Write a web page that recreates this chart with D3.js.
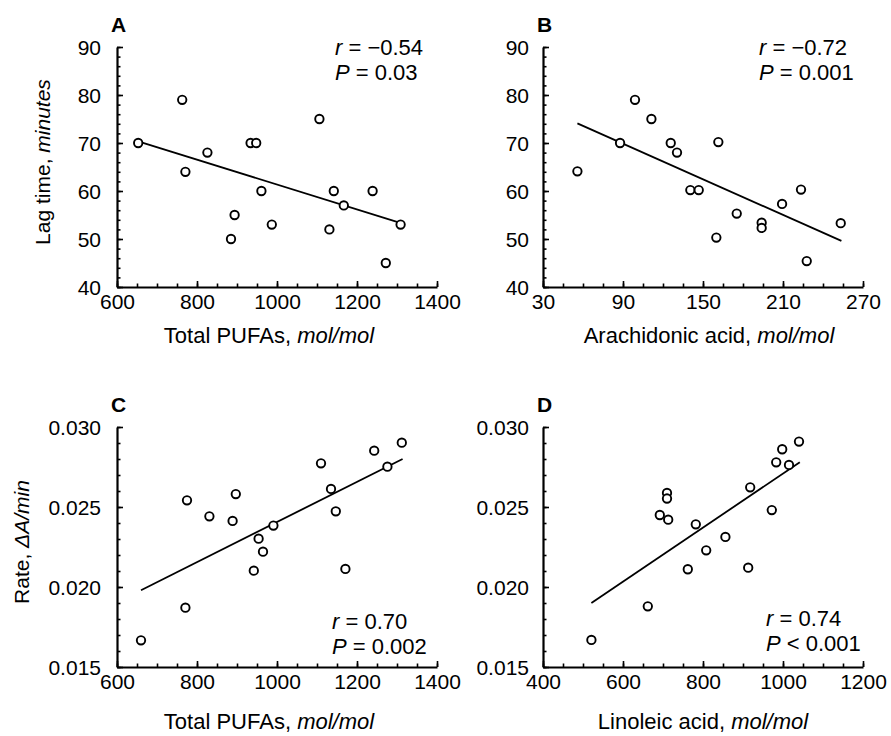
<!DOCTYPE html>
<html>
<head>
<meta charset="utf-8">
<script src="https://cdn.jsdelivr.net/npm/d3@7"></script>
<style>
  body { margin: 0; background: #fff; }
  text { font-family: "Liberation Sans", Arial, Helvetica, sans-serif; fill: #000; }
</style>
</head>
<body>
<svg id="chart" width="891" height="736"></svg>
<script>
// ---- data ----
// A: lag time vs total PUFAs
const pufaA = [653, 763, 771, 826, 885, 894, 934, 948, 961, 987, 1106, 1131, 1142, 1167, 1239, 1272, 1309]
const lagA  = [70, 79, 64, 68, 50, 55, 70, 70, 60, 53, 75, 52, 60, 57, 60, 45, 53]
// B: lag time vs arachidonic acid
const araB = [55.8, 87.8, 99, 111.3, 125.8, 130.5, 140.5, 146.8, 161.5, 160, 175.3, 194, 194, 209.3, 223.5, 227.8, 253.3]
const lagB = [64.1, 70, 79, 75, 70, 68, 60.2, 60.2, 70.2, 50.3, 55.3, 53.4, 52.3, 57.3, 60.3, 45.4, 53.3]
// C: rate vs total PUFAs
const pufaC = [660, 771, 775, 831, 889, 897, 942, 954, 965, 991, 1110, 1135, 1147, 1171, 1243, 1276, 1312]
const rateC = [0.01667, 0.01871, 0.02542, 0.02442, 0.02413, 0.02581, 0.02102, 0.02302, 0.02221, 0.02384, 0.02773, 0.02613, 0.02473, 0.02113, 0.02852, 0.02752, 0.02902]
// D: rate vs linoleic acid
const linD  = [521, 662, 692, 710, 710, 713, 762, 782, 808, 856, 913, 918, 972, 983, 998, 1015, 1040]
const rateD = [0.01669, 0.01879, 0.02450, 0.02588, 0.02553, 0.02421, 0.02111, 0.02392, 0.02229, 0.02313, 0.02121, 0.02623, 0.02481, 0.02779, 0.02861, 0.02763, 0.02909]

// regression lines (end points as drawn)
const fitA = { x: [655, 1310], y: [70.3, 53.3] }
const fitB = { x: [55.8, 253.8], y: [74.1, 49.6] }
const fitC = { x: [660, 1314], y: [0.0198, 0.0280] }
const fitD = { x: [521, 1042], y: [0.0190, 0.0278] }

const statR = ["\u22120.54", "\u22120.72", "0.70", "0.74"]
const statP = ["= 0.03", "= 0.001", "= 0.002", "< 0.001"]

const ticksPufa = [600, 800, 1000, 1200, 1400]
const ticksAra  = [30, 90, 150, 210, 270]
const ticksLin  = [400, 600, 800, 1000, 1200]
const ticksLag  = [40, 50, 60, 70, 80, 90]
const ticksRate = [0.015, 0.020, 0.025, 0.030]

const svg = d3.select("#chart")
const FONT = "21px"

function drawPanel(p) {
    const g = svg.append("g")
    const x = d3.scaleLinear().domain(p.xDomain).range([p.left, p.right])
    const y = d3.scaleLinear().domain(p.yDomain).range([p.bottom, p.top])

    // minor ticks (inward)
    g.append("g")
        .attr("transform", `translate(0,${p.bottom})`)
        .call(d3.axisBottom(x).tickValues(d3.range(p.xDomain[0], p.xDomain[1] + 1e-9, p.xMinor)).tickSize(-3.5).tickFormat("").tickSizeOuter(0))
        .call(a => a.select(".domain").remove())
    g.append("g")
        .attr("transform", `translate(${p.left},0)`)
        .call(d3.axisLeft(y).tickValues(d3.range(p.yDomain[0], p.yDomain[1] + 1e-9, p.yMinor)).tickSize(-3.5).tickFormat("").tickSizeOuter(0))
        .call(a => a.select(".domain").remove())

    // major ticks + labels
    const xa = g.append("g")
        .attr("transform", `translate(0,${p.bottom})`)
        .call(d3.axisBottom(x).tickValues(p.xTicks).tickSize(-6).tickPadding(7).tickSizeOuter(0).tickFormat(d3.format("d")))
    const ya = g.append("g")
        .attr("transform", `translate(${p.left},0)`)
        .call(d3.axisLeft(y).tickValues(p.yTicks).tickSize(-6).tickPadding(p.yPad).tickSizeOuter(0).tickFormat(p.yFormat))

    g.selectAll(".tick line").attr("stroke", "#000").attr("stroke-width", 1.6)
    ;[xa, ya].forEach(a => {
        a.attr("font-family", null).attr("font-size", null)
        a.select(".domain").attr("stroke", "#000").attr("stroke-width", 2.2)
        a.selectAll("text").style("font-size", FONT).attr("fill", "#000")
    })
    ya.selectAll("text").attr("dy", "0.36em")

    // regression line
    const pts = p.fit.x.map((v, i) => [v, p.fit.y[i]])
    g.append("path")
        .attr("d", d3.line().x(d => x(d[0])).y(d => y(d[1]))(pts))
        .attr("fill", "none")
        .attr("stroke", "#000")
        .attr("stroke-width", 1.8)

    // points
    g.selectAll("circle")
        .data(p.xs.map((v, i) => [v, p.ys[i]]))
        .enter().append("circle")
        .attr("cx", d => x(d[0]))
        .attr("cy", d => y(d[1]))
        .attr("r", 4.2)
        .attr("fill", "#fff")
        .attr("stroke", "#000")
        .attr("stroke-width", 1.9)

    // panel letter
    g.append("text")
        .attr("x", p.left - 6).attr("y", p.top - 15)
        .style("font-size", FONT).style("font-weight", "bold")
        .text(p.letter)

    // x title
    const xt = g.append("text")
        .attr("x", (p.left + p.right) / 2 + p.xTitleDx).attr("y", p.bottom + p.xTitleDy)
        .attr("text-anchor", "middle").style("font-size", "22px")
    xt.append("tspan").text(p.xTitle[0])
    xt.append("tspan").style("font-style", "italic").text(p.xTitle[1])

    // y title
    if (p.yTitle) {
        const yt = g.append("text")
            .attr("transform", `translate(${p.yTitleX},${(p.top + p.bottom) / 2 - 5}) rotate(-90)`)
            .attr("text-anchor", "middle").style("font-size", FONT)
        yt.append("tspan").text(p.yTitle[0])
        yt.append("tspan").style("font-style", "italic").text(p.yTitle[1])
    }

    // statistics
    const s1 = g.append("text").attr("x", p.statX).attr("y", p.statY).style("font-size", "22px")
    s1.append("tspan").style("font-style", "italic").text("r")
    s1.append("tspan").text(" = " + p.r)
    const s2 = g.append("text").attr("x", p.statX).attr("y", p.statY + 24.5).style("font-size", "22px")
    s2.append("tspan").style("font-style", "italic").text("P")
    s2.append("tspan").text(" " + p.p)
}

const panels = [
    { letter: "A", xs: pufaA, ys: lagA, fit: fitA, xDomain: [600, 1400], yDomain: [40, 90],
      xTicks: ticksPufa, yTicks: ticksLag, xMinor: 50, yMinor: 2, yFormat: d3.format("d"), yPad: 16,
      left: 117, right: 437, top: 47, bottom: 287, xTitle: ["Total PUFAs, ", "mol/mol"], xTitleDx: -8, xTitleDy: 56,
      yTitle: ["Lag time, ", "minutes"], yTitleX: 50, statX: 335, statY: 55, r: statR[0], p: statP[0] },
    { letter: "B", xs: araB, ys: lagB, fit: fitB, xDomain: [30, 270], yDomain: [40, 90],
      xTicks: ticksAra, yTicks: ticksLag, xMinor: 15, yMinor: 2, yFormat: d3.format("d"), yPad: 14,
      left: 543, right: 863, top: 47, bottom: 287, xTitle: ["Arachidonic acid, ", "mol/mol"], xTitleDx: 6, xTitleDy: 56,
      yTitle: null, statX: 759, statY: 55, r: statR[1], p: statP[1] },
    { letter: "C", xs: pufaC, ys: rateC, fit: fitC, xDomain: [600, 1400], yDomain: [0.015, 0.030],
      xTicks: ticksPufa, yTicks: ticksRate, xMinor: 50, yMinor: 0.001, yFormat: d3.format(".3f"), yPad: 16,
      left: 117, right: 437, top: 427, bottom: 667, xTitle: ["Total PUFAs, ", "mol/mol"], xTitleDx: -8, xTitleDy: 62,
      yTitle: ["Rate, ", "\u0394A/min"], yTitleX: 29, statX: 332, statY: 629, r: statR[2], p: statP[2] },
    { letter: "D", xs: linD, ys: rateD, fit: fitD, xDomain: [400, 1200], yDomain: [0.015, 0.030],
      xTicks: ticksLin, yTicks: ticksRate, xMinor: 50, yMinor: 0.001, yFormat: d3.format(".3f"), yPad: 14,
      left: 543, right: 863, top: 427, bottom: 667, xTitle: ["Linoleic acid, ", "mol/mol"], xTitleDx: 0, xTitleDy: 62,
      yTitle: null, statX: 766, statY: 626, r: statR[3], p: statP[3] }
]

panels.forEach(drawPanel)
</script>
</body>
</html>
